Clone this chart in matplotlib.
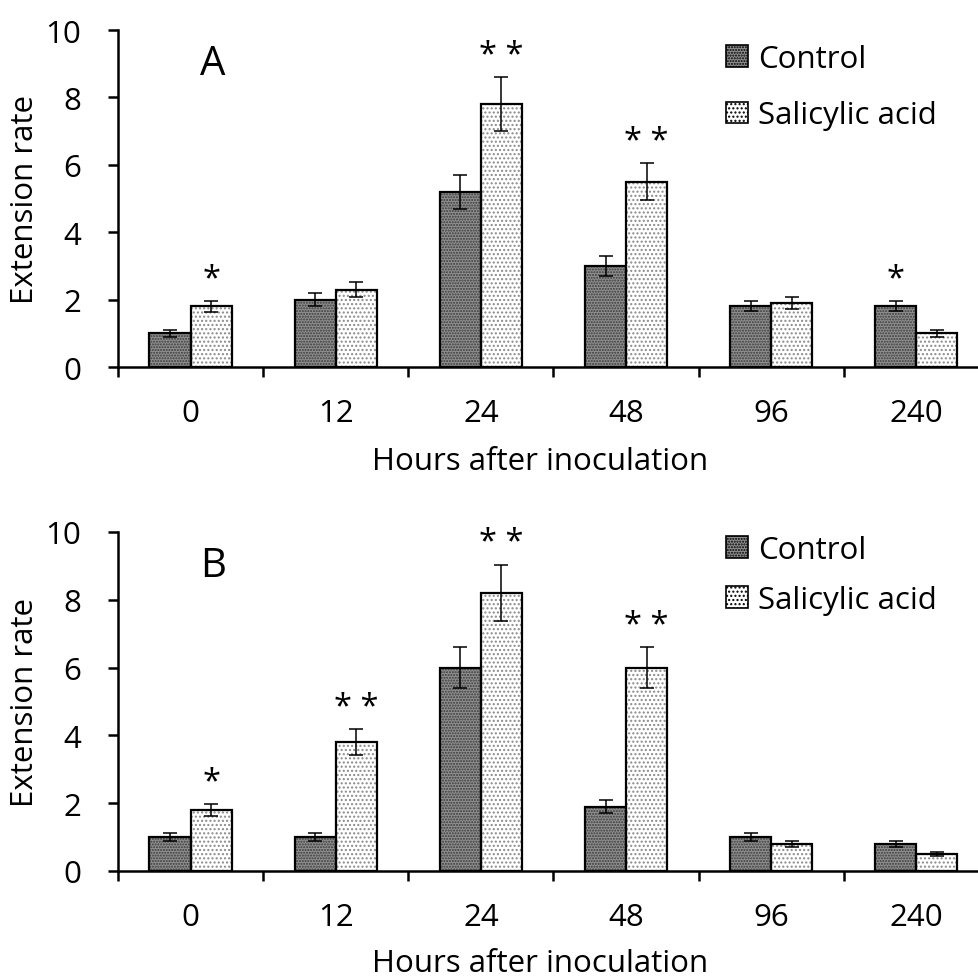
import numpy as np
import matplotlib
matplotlib.use('Agg')
from matplotlib import rcParams
rcParams['font.family'] = 'Open Sans'
rcParams['hatch.linewidth'] = 1.0
import matplotlib.pyplot as plt
from matplotlib.patches import Patch

hours = ['0', '12', '24', '48', '96', '240']

# panel A
ctrl_a = [1.0, 2.0, 5.2, 3.0, 1.8, 1.8]
ctrl_a_err = [0.1, 0.2, 0.5, 0.3, 0.15, 0.15]
sa_a = [1.8, 2.3, 7.8, 5.5, 1.9, 1.0]
sa_a_err = [0.17, 0.22, 0.8, 0.55, 0.18, 0.1]
# significance marks: (group index, which bar, text)
stars_a = [(0, 'sa', '*'), (2, 'sa', '* *'), (3, 'sa', '* *'), (5, 'ctrl', '*')]

# panel B
ctrl_b = [1.0, 1.0, 6.0, 1.9, 1.0, 0.8]
ctrl_b_err = [0.12, 0.12, 0.6, 0.18, 0.12, 0.09]
sa_b = [1.8, 3.8, 8.2, 6.0, 0.8, 0.5]
sa_b_err = [0.17, 0.38, 0.83, 0.6, 0.09, 0.05]
stars_b = [(0, 'sa', '*'), (1, 'sa', '* *'), (2, 'sa', '* *'), (3, 'sa', '* *')]

FS = 22.5
W = 0.283


def bars(ax, x, vals, face, hatch, hcol):
    ax.bar(x, vals, W, color=face, edgecolor=hcol, hatch=hatch, linewidth=0, zorder=2)
    ax.bar(x, vals, W, fill=False, edgecolor='black', linewidth=1.6, zorder=3)


def panel(ax, ctrl, ctrl_err, sa, sa_err, stars, letter, leg_y, leg_sp):
    x = np.arange(len(hours))
    xc, xs = x - W / 2, x + W / 2
    bars(ax, xc, ctrl, '#8f8f8f', '......', '#3a3a3a')
    bars(ax, xs, sa, 'white', '....', '#8a8a8a')
    ax.errorbar(xc, ctrl, yerr=ctrl_err, fmt='none', ecolor='black', elinewidth=1.1, capsize=4.7, capthick=1.1, zorder=4)
    ax.errorbar(xs, sa, yerr=sa_err, fmt='none', ecolor='black', elinewidth=1.1, capsize=4.7, capthick=1.1, zorder=4)
    for i, which, s in stars:
        if which == 'sa':
            xx, top = xs[i], sa[i] + sa_err[i]
        else:
            xx, top = xc[i], ctrl[i] + ctrl_err[i]
        ax.text(xx, top + 0.4, s, ha='center', va='baseline', fontsize=FS + 1)

    h1 = Patch(facecolor='#8f8f8f', edgecolor='black', hatch='......', linewidth=1.2)
    h2 = Patch(facecolor='white', edgecolor='black', hatch='....', linewidth=1.2)
    ax.legend([h1, h2], ['Control', 'Salicylic acid'], loc='upper left',
              bbox_to_anchor=(0.698, leg_y), frameon=False, fontsize=FS,
              handlelength=0.72, handleheight=0.7, handletextpad=0.3,
              labelspacing=leg_sp, borderpad=0, borderaxespad=0)

    ax.text(0.109, 0.90, letter, transform=ax.transAxes, ha='center', va='center', fontsize=29)

    ax.set_xlim(-0.5, 5.5)
    ax.set_ylim(0, 10)
    ax.set_yticks([0, 2, 4, 6, 8, 10])
    ax.set_xticks(x)
    ax.set_xticklabels(hours)
    ax.set_xticks(np.arange(-0.5, 6, 1), minor=True)
    ax.tick_params(axis='x', which='major', length=0, pad=22, labelsize=FS)
    ax.tick_params(axis='x', which='minor', length=7.5, width=1.8, direction='out')
    ax.tick_params(axis='y', length=7.5, width=1.8, direction='out', pad=19, labelsize=FS)
    for side in ['top', 'right']:
        ax.spines[side].set_visible(False)
    for side in ['left', 'bottom']:
        ax.spines[side].set_linewidth(1.8)
    ax.set_ylabel('Extension rate', fontsize=FS)
    ax.yaxis.set_label_coords(-0.089, 0.5)
    ax.set_xlabel('Hours after inoculation', fontsize=FS)


fig = plt.figure(figsize=(9.79, 9.79), dpi=100)
ax1 = fig.add_axes([0.1205, 0.6241, 0.8897, 0.3442])
ax2 = fig.add_axes([0.1205, 0.1093, 0.8897, 0.3463])
panel(ax1, ctrl_a, ctrl_a_err, sa_a, sa_a_err, stars_a, 'A', 0.958, 0.84)
panel(ax2, ctrl_b, ctrl_b_err, sa_b, sa_b_err, stars_b, 'B', 0.99, 0.64)
ax1.xaxis.set_label_coords(0.485, -0.234)
ax2.xaxis.set_label_coords(0.485, -0.226)
fig.savefig('out.png', dpi=100)
